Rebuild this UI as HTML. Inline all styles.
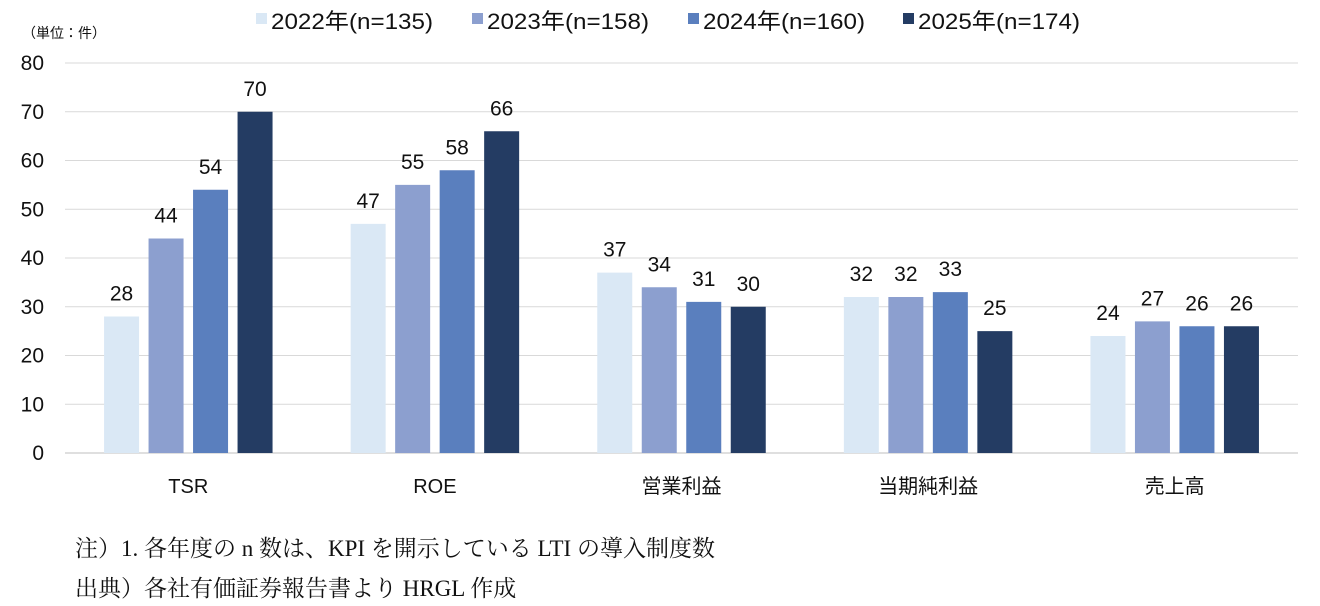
<!DOCTYPE html>
<html><head><meta charset="utf-8"><style>
body{margin:0;background:#fff;width:1320px;height:606px;overflow:hidden;font-family:"Liberation Sans","Noto Sans CJK JP",sans-serif;}
svg text{font-family:"Liberation Sans","Noto Sans CJK JP",sans-serif;fill:#111;}
.note{position:absolute;left:75px;font-family:"Liberation Serif","Noto Serif CJK SC",serif;font-size:23px;color:#111;white-space:nowrap;}
</style></head><body>
<svg id="c" width="1320" height="606" style="position:absolute;left:0;top:0"></svg>
<div class="note" style="top:530px">注）1. 各年度の n 数は、KPI を開示している LTI の導入制度数</div>
<div class="note" style="top:570px">出典）各社有価証券報告書より HRGL 作成</div>
<script>
const categories=["TSR","ROE","営業利益","当期純利益","売上高"];
const seriesNames=["2022年(n=135)","2023年(n=158)","2024年(n=160)","2025年(n=174)"];
const s2022=[28,47,37,32,24];
const s2023=[44,55,34,32,27];
const s2024=[54,58,31,33,26];
const s2025=[70,66,30,25,26];
const yTicks=[0,10,20,30,40,50,60,70,80];
const series=[s2022,s2023,s2024,s2025];
const colors=["#DAE8F5","#8C9FCF","#5A7FBE","#243C63"];
const svg=document.getElementById('c');const NS='http://www.w3.org/2000/svg';
function el(t,a,txt){const e=document.createElementNS(NS,t);for(const k in a)e.setAttribute(k,a[k]);if(txt!==undefined)e.textContent=txt;svg.appendChild(e);return e;}
const L=65,R=1298,Y0=453,Y80=63;
const y=v=>Y0-(v/80)*(Y0-Y80);
const gw=(R-L)/categories.length;
const x=i=>L+gw*(i+0.5);
yTicks.forEach(t=>{
 const g=el('line',{x1:L,x2:R,y1:y(t),y2:y(t),stroke:t===0?'#bfbfbf':'#d9d9d9','stroke-width':1});
 
 const tx=el('text',{x:44,y:y(t)+7,'text-anchor':'end','font-size':21},t);
 
});
const bw=35,step=44.5;
categories.forEach((c,i)=>{
 series.forEach((s,j)=>{
  const bx=x(i)+(j-1.5)*step-bw/2;
  const r=el('rect',{x:bx,y:y(s[i]),width:bw,height:Y0-y(s[i]),fill:colors[j]});
  
  const t=el('text',{x:bx+bw/2,y:y(s[i])-16,'text-anchor':'middle','font-size':21},s[i]);
  
 });
 const ct=el('text',{x:x(i),y:493,'text-anchor':'middle','font-size':20},c);
 
});
const lx=[256,472,688,903];
seriesNames.forEach((n,j)=>{
 const m=el('rect',{x:lx[j],y:13,width:11,height:11,fill:colors[j]});
 
 const t=el('text',{x:lx[j]+15,y:29,'font-size':22,textLength:162,lengthAdjust:'spacingAndGlyphs'},n);
 
});
const u=el('text',{x:22,y:38,'font-size':14,fill:'#333'},'（単位：件）');

</script>
</body></html>
